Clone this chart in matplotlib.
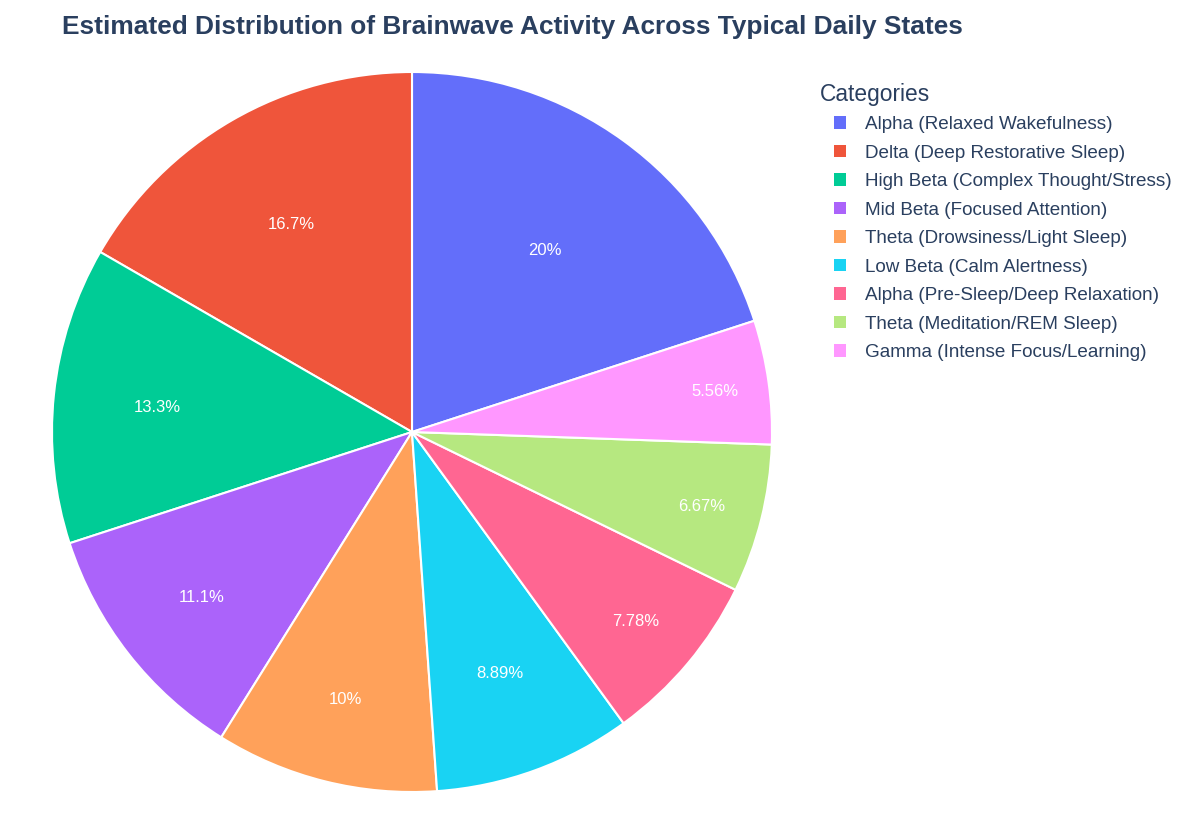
import matplotlib
matplotlib.use("Agg")
import numpy as np
import matplotlib.pyplot as plt
from matplotlib.patches import Patch

plt.rcParams['font.family'] = ['Liberation Sans', 'DejaVu Sans']

categories = [
    "Alpha (Relaxed Wakefulness)",
    "Delta (Deep Restorative Sleep)",
    "High Beta (Complex Thought/Stress)",
    "Mid Beta (Focused Attention)",
    "Theta (Drowsiness/Light Sleep)",
    "Low Beta (Calm Alertness)",
    "Alpha (Pre-Sleep/Deep Relaxation)",
    "Theta (Meditation/REM Sleep)",
    "Gamma (Intense Focus/Learning)",
]
values = [18, 15, 12, 10, 9, 8, 7, 6, 5]
colors = ["#636efa", "#EF553B", "#00cc96", "#ab63fa", "#FFA15A",
          "#19d3f3", "#FF6692", "#B6E880", "#FF97FF"]
# radial position of the percent text inside each slice
text_radius = [0.63, 0.67, 0.71, 0.74, 0.76, 0.71, 0.81, 0.83, 0.85]

text_col = "#2a3f5f"
total = sum(values)

fig = plt.figure(figsize=(12, 8.4), dpi=100)
ax = fig.add_axes([52 / 1200, 48 / 840, 720 / 1200, 720 / 840])

# first slice ends at 12 o'clock, the rest run counterclockwise from there
start = 90 - 360 * values[0] / total
wedges, _ = ax.pie(values, colors=colors, startangle=start, counterclock=True,
                   radius=1, wedgeprops=dict(edgecolor="white", linewidth=1.5))

for w, v, r in zip(wedges, values, text_radius):
    ang = np.deg2rad((w.theta1 + w.theta2) / 2)
    pct = 100 * v / total
    ax.text(r * np.cos(ang), r * np.sin(ang) - 0.005, f"{pct:.3g}%", color="white",
            ha="center", va="center", fontsize=12)
ax.set_xlim(-1, 1)
ax.set_ylim(-1, 1)
ax.set_aspect("equal")

fig.text(62 / 1200, 1 - 27 / 840, "Estimated Distribution of Brainwave Activity Across Typical Daily States",
         fontsize=18.9, fontweight="bold", color=text_col, ha="left", va="center")

fig.text(820 / 1200, 1 - 94 / 840, "Categories", fontsize=16.4, color=text_col,
         ha="left", va="center")

handles = [Patch(facecolor=c, edgecolor="none") for c in colors]
leg = fig.legend(handles, categories, loc="upper left", bbox_to_anchor=(817 / 1200, 1 - 99 / 840),
                 frameon=False, fontsize=13.6,
                 handlelength=0.65, handleheight=0.65, handletextpad=0.99, labelspacing=0.61)
for t in leg.get_texts():
    t.set_color(text_col)

fig.savefig("out.png", dpi=100)
